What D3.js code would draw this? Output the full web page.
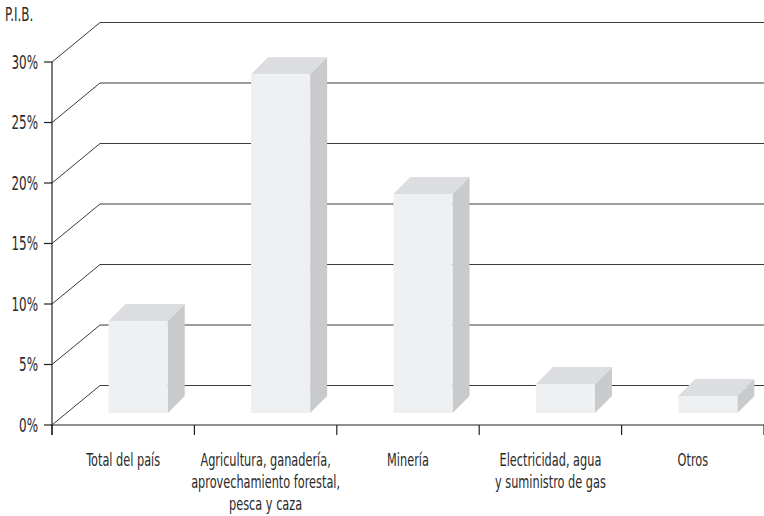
<!DOCTYPE html>
<html>
<head>
<meta charset="utf-8">
<script src="https://cdn.jsdelivr.net/npm/d3@7"></script>
<style>
  body { margin: 0; background: #fff; }
  svg text { font-family: "DejaVu Sans Condensed", "DejaVu Sans", sans-serif; fill: #2a2a2a; }
</style>
</head>
<body>
<svg id="chart" width="764" height="516"></svg>
<script>
const categories = [
    ["Total del país"],
    ["Agricultura, ganadería,", "aprovechamiento forestal,", "pesca y caza"],
    ["Minería"],
    ["Electricidad, agua", "y suministro de gas"],
    ["Otros"]
];
const values = [7.6, 28.0, 18.1, 2.4, 1.4];
const yTicks = [0, 5, 10, 15, 20, 25, 30];

const width = 764, height = 516;
const margin = {left: 52, right: 0, top: 62, bottom: 91};

// depth offsets for the fake 3d
const wall = {dx: 48, dy: -39.5};
const barShift = {dx: 15, dy: -12};
const barDepth = {dx: 17, dy: -17};
const squeeze = 0.7; // narrow the font, the original is a condensed face

const svg = d3.select("#chart");

const x = d3.scaleBand().domain(d3.range(categories.length))
    .range([margin.left, width - margin.right]).paddingInner(0).paddingOuter(0);
const y = d3.scaleLinear().domain([0, 30]).range([height - margin.bottom, margin.top]);

// back wall grid lines
const grid = svg.append("g").attr("stroke", "#3a3a3a").attr("stroke-width", 1).attr("fill", "none");
yTicks.forEach(t => {
    const y0 = y(t), y1 = y(t) + wall.dy;
    grid.append("path")
        .attr("d", `M${margin.left},${y0}L${margin.left + wall.dx},${y1}H${width}`);
});

// bars
const bars = svg.append("g").selectAll("g").data(values).join("g");
const bw = x.bandwidth() * 0.415;
bars.each(function(v, i) {
    const g = d3.select(this);
    const x0 = x(i) + (x.bandwidth() - bw) / 2 + barShift.dx;
    const x1 = x0 + bw;
    const yb = y(0) + barShift.dy;
    const yt = y(v) + barShift.dy;
    const {dx, dy} = barDepth;
    g.append("path").attr("fill", "#c9cacc")
        .attr("d", `M${x1},${yt}L${x1 + dx},${yt + dy}V${yb + dy}L${x1},${yb}Z`);
    g.append("path").attr("fill", "#dcdde0")
        .attr("d", `M${x0},${yt}L${x0 + dx},${yt + dy}H${x1 + dx}L${x1},${yt}Z`);
    g.append("rect").attr("fill", "#eff0f2")
        .attr("x", x0).attr("y", yt).attr("width", bw).attr("height", yb - yt);
});

// axes
const axisG = svg.append("g").attr("stroke", "#222").attr("stroke-width", 1.2);
axisG.append("line").attr("x1", margin.left).attr("x2", margin.left).attr("y1", y(30)).attr("y2", y(0) + 10);
axisG.append("line").attr("x1", margin.left).attr("x2", width).attr("y1", y(0)).attr("y2", y(0));
axisG.selectAll(".yt").data(yTicks).join("line")
    .attr("x1", margin.left - 8).attr("x2", margin.left).attr("y1", d => y(d)).attr("y2", d => y(d));
axisG.selectAll(".xt").data(d3.range(categories.length + 1)).join("line")
    .attr("x1", d => margin.left + d * x.step()).attr("x2", d => margin.left + d * x.step())
    .attr("y1", y(0)).attr("y2", y(0) + 10);

svg.append("g").selectAll("text").data(yTicks).join("text")
    .attr("transform", d => `translate(38,${y(d)}) scale(${squeeze},1)`)
    .attr("dy", "0.36em")
    .attr("text-anchor", "end").attr("font-size", 19)
    .text(d => d + "%");

svg.append("text").attr("transform", `translate(5,21) scale(${squeeze},1)`)
    .attr("font-size", 19).text("P.I.B.");

const labels = svg.append("g").selectAll("text").data(categories).join("text")
    .attr("text-anchor", "middle").attr("font-size", 18)
    .attr("transform", (d, i) => `translate(${x(i) + x.bandwidth() / 2},466) scale(${squeeze},1)`);
labels.selectAll("tspan").data(d => d).join("tspan")
    .attr("x", 0).attr("dy", (d, j) => j ? 22 : 0).text(d => d);
</script>
</body>
</html>
